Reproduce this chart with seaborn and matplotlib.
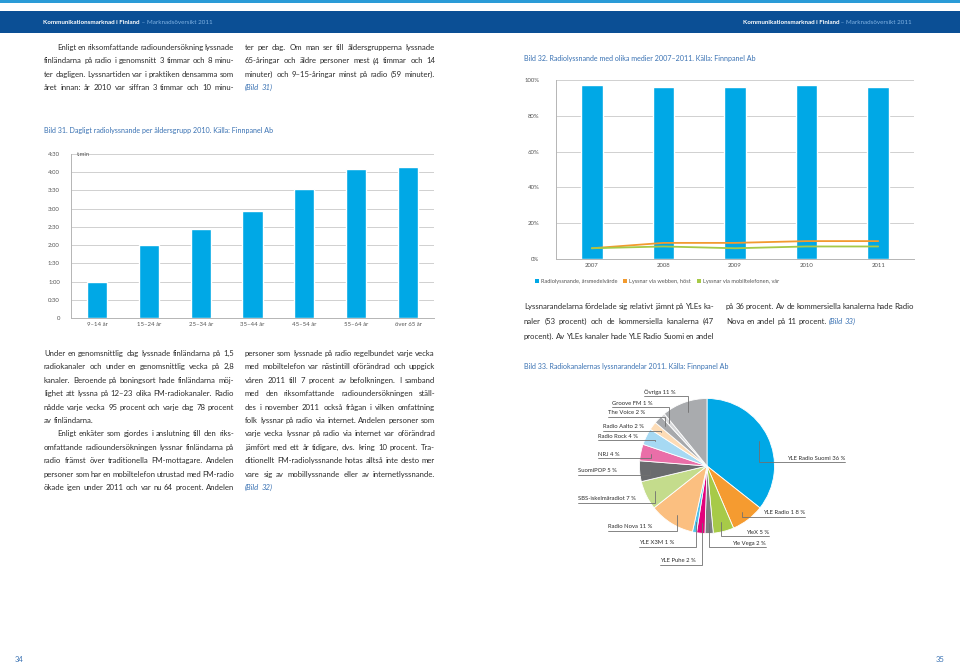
import numpy as np
import matplotlib
matplotlib.use("Agg")
import matplotlib.pyplot as plt
from matplotlib.patches import Rectangle, Patch
import seaborn as sns

# Style
sns.set_theme(style="white")
plt.rcParams["font.family"] = ["Lato", "DejaVu Sans"]

# ---- Data ----
# Bild 31: daily listening per age group 2010 (minutes)
age_groups = ["9–14 år", "15–24 år", "25–34 år", "35–44 år", "45–54 år", "55–64 år", "över 65 år"]
age_minutes = [59, 120, 146, 176, 212, 246, 249]

# Bild 32: radio listening via different media 2007-2011 (%)
years = ["2007", "2008", "2009", "2010", "2011"]
radio_share = [97, 96, 96, 97, 96]
web_share = [6, 9, 9, 10, 10]
mobile_share = [6, 7, 6, 7, 7]
legend_labels = ["Radiolyssnande, årsmedelvärde", "Lyssnar via webben, höst", "Lyssnar via mobiltelefonen, vår"]

# Bild 33: channel shares 2011 (%), clockwise from top
channels = ["YLE Radio Suomi", "YLE Radio 1", "YleX", "Yle Vega", "YLE Puhe", "YLE X3M",
            "Radio Nova", "SBS-iskelmäradiot", "SuomiPOP", "NRJ", "Radio Rock",
            "Radio Aalto", "The Voice", "Groove FM", "Övriga"]
channel_share = [36, 8, 5, 2, 2, 1, 11, 7, 5, 4, 4, 2, 2, 1, 11]
pie_colors = ["#00a8e6", "#f59b30", "#a7ca48", "#7c7d80", "#e2007b", "#4fc0ea",
              "#fbbf80", "#c4dc8c", "#6a6b6e", "#ea6ea8", "#a6d9f3",
              "#fddcb6", "#a7a9ac", "#d6d7d9", "#a9abae"]

# pie label layout (pixels): side, outer text end, underline height
label_side = ["R", "R", "R", "R", "L", "L", "L", "L", "L", "L", "L", "L", "L", "L", "L"]
label_x = [845, 805, 769, 766, 660, 639, 608, 578, 578, 598, 598, 603, 608, 612, 644]
label_y = [462, 517, 536, 547, 565, 547, 531, 503, 475, 458, 440, 431, 417, 407, 396]

# ---- Body text (\t = indent, trailing \n = paragraph end) ----
text_top_1 = [
    "\tEnligt en riksomfattande radioundersökning lyssnade",
    "finländarna på radio i genomsnitt 3 timmar och 8 minu-",
    "ter dagligen. Lyssnartiden var i praktiken densamma som",
    "året innan: år 2010 var siffran 3 timmar och 10 minu-",
]
text_top_2 = [
    "ter per dag. Om man ser till åldersgrupperna lyssnade",
    "65-åringar och äldre personer mest (4 timmar och 14",
    "minuter) och 9–15-åringar minst på radio (59 minuter).",
    "(Bild 31)\n",
]
text_bottom_1 = [
    "Under en genomsnittlig dag lyssnade finländarna på 1,5",
    "radiokanaler och under en genomsnittlig vecka på 2,8",
    "kanaler. Beroende på boningsort hade finländarna möj-",
    "lighet att lyssna på 12–23 olika FM-radiokanaler. Radio",
    "nådde varje vecka 95 procent och varje dag 78 procent",
    "av finländarna.\n",
    "\tEnligt enkäter som gjordes i anslutning till den riks-",
    "omfattande radioundersökningen lyssnar finländarna på",
    "radio främst över traditionella FM-mottagare. Andelen",
    "personer som har en mobiltelefon utrustad med FM-radio",
    "ökade igen under 2011 och var nu 64 procent. Andelen",
]
text_bottom_2 = [
    "personer som lyssnade på radio regelbundet varje vecka",
    "med mobiltelefon var nästintill oförändrad och uppgick",
    "våren 2011 till 7 procent av befolkningen. I samband",
    "med den riksomfattande radioundersökningen ställ-",
    "des i november 2011 också frågan i vilken omfattning",
    "folk lyssnar på radio via internet. Andelen personer som",
    "varje vecka lyssnar på radio via internet var oförändrad",
    "jämfört med ett år tidigare, dvs. kring 10 procent. Tra-",
    "ditionellt FM-radiolyssnande hotas alltså inte desto mer",
    "vare sig av mobillyssnande eller av internetlyssnande.",
    "(Bild 32)\n",
]
text_right_1 = [
    "Lyssnarandelarna fördelade sig relativt jämnt på YLEs ka-",
    "naler (53 procent) och de kommersiella kanalerna (47",
    "procent). Av YLEs kanaler hade YLE Radio Suomi en andel",
]
text_right_2 = [
    "på 36 procent. Av de kommersiella kanalerna hade Radio",
    "Nova en andel på 11 procent. (Bild 33)\n",
]

# ---- Colours / sizes ----
BLUE = "#00a8e6"
ORANGE = "#f29a2e"
GREEN = "#a6c947"
TEXT = "#2b2b2b"
LINK = "#3a72b3"
AXIS = "#555555"
GRID = "#d0d0d0"
COL_W = 190
LEAD = 13.4

W, H = 960, 666
fig = plt.figure(figsize=(W / 100, H / 100), dpi=100)
renderer = fig.canvas.get_renderer()


def fx(x):
    return x / W


def fy(y):
    return 1 - y / H


def measure(s, **kw):
    t = fig.text(0, 0, s, **kw)
    w = t.get_window_extent(renderer).width
    t.remove()
    return w


def run(x, y, pieces, align="left"):
    widths = [measure(s, **kw) for s, kw in pieces]
    if align == "right":
        x -= sum(widths)
    for (s, kw), w in zip(pieces, widths):
        fig.text(fx(x), fy(y), s, va="baseline", **kw)
        x += w


# pick the body size so the widest justified line fits with tight spacing
all_lines = text_top_1 + text_top_2 + text_bottom_1 + text_bottom_2 + text_right_1 + text_right_2
sp6 = measure("a a", fontsize=6) - measure("aa", fontsize=6)
widest = max(sum(measure(w, fontsize=6) for w in l.split())
             + 0.5 * sp6 * (len(l.split()) - 1) + (13 if l.startswith("\t") else 0)
             for l in all_lines if not l.endswith("\n"))
BODY = min(7.0, 6 * COL_W / widest)


def put_words(x, y, line, width=None):
    words = line.split(" ")
    kws = []
    ref = False
    for w in words:
        if w.startswith("(Bild"):
            ref = True
        kws.append(dict(fontsize=BODY, color=LINK if ref else TEXT,
                        style="italic" if ref else "normal"))
    widths = [measure(w, **k) for w, k in zip(words, kws)]
    gap = measure("a a", fontsize=BODY) - measure("aa", fontsize=BODY)
    if width is not None and len(words) > 1:
        gap = (width - sum(widths)) / (len(words) - 1)
    cx = x
    for w, k, wd in zip(words, kws, widths):
        fig.text(fx(cx), fy(y), w, va="baseline", ha="left", **k)
        cx += wd + gap


def draw_block(lines, x0, y0, width, lead=LEAD):
    for i, raw in enumerate(lines):
        ind = 13 if raw.startswith("\t") else 0
        last = raw.endswith("\n")
        put_words(x0 + ind, y0 + i * lead, raw.strip(), None if last else width - ind)


# ---- Header band ----
fig.add_artist(Rectangle((0, fy(3)), 1, 3 / H, transform=fig.transFigure,
                         facecolor="#2a9bd7", edgecolor="none"))
fig.add_artist(Rectangle((0, fy(33)), 1, 22 / H, transform=fig.transFigure,
                         facecolor="#0b4f95", edgecolor="none"))
head = [("Kommunikationsmarknad i Finland", dict(fontsize=4.5, color="white", weight="bold")),
        (" – Marknadsöversikt 2011", dict(fontsize=4.5, color="#7fb2e3"))]
run(43, 24, head)
run(912, 24, head, align="right")

# ---- Body text ----
draw_block(text_top_1, 44, 50, COL_W)
draw_block(text_top_2, 245, 50, COL_W)
draw_block(text_bottom_1, 44, 356, COL_W)
draw_block(text_bottom_2, 245, 356, COL_W)
draw_block(text_right_1, 524, 309, COL_W, lead=15)
draw_block(text_right_2, 726, 309, 914 - 726, lead=15)

# captions
cap = dict(fontsize=5.1, color=LINK)
fig.text(fx(44), fy(130), "Bild 31. Dagligt radiolyssnande per åldersgrupp 2010. Källa: Finnpanel Ab", va="center", **cap)
fig.text(fx(524), fy(58), "Bild 32. Radiolyssnande med olika medier 2007–2011. Källa: Finnpanel Ab", va="center", **cap)
fig.text(fx(524), fy(367), "Bild 33. Radiokanalernas lyssnarandelar 2011. Källa: Finnpanel Ab", va="center", **cap)

# page numbers
fig.text(fx(15), fy(660), "34", fontsize=5.5, color=LINK, va="center")
fig.text(fx(945), fy(660), "35", fontsize=5.5, color=LINK, va="center", ha="right")


def style_axis(ax, pad):
    for s in ["top", "right"]:
        ax.spines[s].set_visible(False)
    for s in ["left", "bottom"]:
        ax.spines[s].set_color("#b5b5b5")
        ax.spines[s].set_linewidth(0.7)
    ax.yaxis.grid(True, color=GRID, linewidth=0.7)
    ax.set_axisbelow(True)
    n = len(ax.get_xticks())
    ax.set_xticks(np.arange(-0.5, n, 1), minor=True)
    ax.tick_params(axis="x", which="major", length=0, labelsize=4.3, labelcolor=AXIS, pad=3)
    ax.tick_params(axis="x", which="minor", length=3, direction="in", color="#b5b5b5", width=0.6)
    ax.tick_params(axis="y", length=0, labelsize=4.3, labelcolor=AXIS, pad=pad)
    ax.set_xlabel("")
    ax.set_ylabel("")


# ---- Bild 31 ----
ax1 = fig.add_axes([fx(71), fy(318), (434 - 71) / W, (318 - 154) / H])
sns.barplot(x=age_groups, y=age_minutes, color=BLUE, saturation=1, width=0.39, ax=ax1)
ax1.set_ylim(0, 270)
ticks31 = list(range(0, 271, 30))
ax1.set_yticks(ticks31)
ax1.set_yticklabels(["0" if t == 0 else f"{t // 60}:{t % 60:02d}" for t in ticks31])
style_axis(ax1, pad=8)
ax1.text(0.015, 1.0, "t:min", transform=ax1.transAxes, fontsize=4.2, color=AXIS, va="center")

# ---- Bild 32 ----
ax2 = fig.add_axes([fx(556), fy(259), (914 - 556) / W, (259 - 80) / H])
sns.barplot(x=years, y=radio_share, color=BLUE, saturation=1, width=0.3, ax=ax2)
sns.lineplot(x=years, y=web_share, color=ORANGE, linewidth=1.3, ax=ax2)
sns.lineplot(x=years, y=mobile_share, color=GREEN, linewidth=1.3, ax=ax2)
ax2.set_ylim(0, 100)
ax2.set_xlim(-0.5, len(years) - 0.5)
ticks32 = list(range(0, 101, 20))
ax2.set_yticks(ticks32)
ax2.set_yticklabels([f"{t}%" for t in ticks32])
style_axis(ax2, pad=12)

handles = [Patch(facecolor=c, edgecolor="none", label=l)
           for c, l in zip([BLUE, ORANGE, GREEN], legend_labels)]
fig.legend(handles=handles, loc="center left", bbox_to_anchor=(fx(535), fy(281)),
           ncol=3, frameon=False, fontsize=4.1, labelcolor=AXIS,
           handlelength=0.7, handleheight=0.7, handletextpad=0.35,
           columnspacing=1.0, borderaxespad=0, borderpad=0)

# ---- Bild 33 ----
PIE_CX, PIE_CY, PIE_R = 707, 466, 67.5
ax3 = fig.add_axes([fx(560), fy(585), (875 - 560) / W, (585 - 380) / H])
wedges, _ = ax3.pie(channel_share, colors=pie_colors, startangle=90, counterclock=False,
                    wedgeprops=dict(edgecolor="white", linewidth=0.6))
ax3.set_xlim((560 - PIE_CX) / PIE_R, (875 - PIE_CX) / PIE_R)
ax3.set_ylim((PIE_CY - 585) / PIE_R, (PIE_CY - 380) / PIE_R)
ax3.set_aspect("auto")
ax3.axis("off")

for w, name, share, side, ox, ly in zip(wedges, channels, channel_share, label_side, label_x, label_y):
    ang = np.deg2rad((w.theta1 + w.theta2) / 2)
    px, py = 0.85 * np.cos(ang), 0.85 * np.sin(ang)
    u_out = (ox - PIE_CX) / PIE_R
    v_line = (PIE_CY - ly) / PIE_R
    ax3.plot([px, px, u_out], [py, v_line, v_line], color="#707070", linewidth=0.6,
             solid_joinstyle="miter", clip_on=False)
    ax3.text(u_out, v_line + 1.5 / PIE_R, f"{name} {share} %", fontsize=4.2, color=TEXT,
             ha="left" if side == "L" else "right", va="bottom")

fig.savefig("out.png", dpi=100, facecolor="white")
plt.close(fig)
